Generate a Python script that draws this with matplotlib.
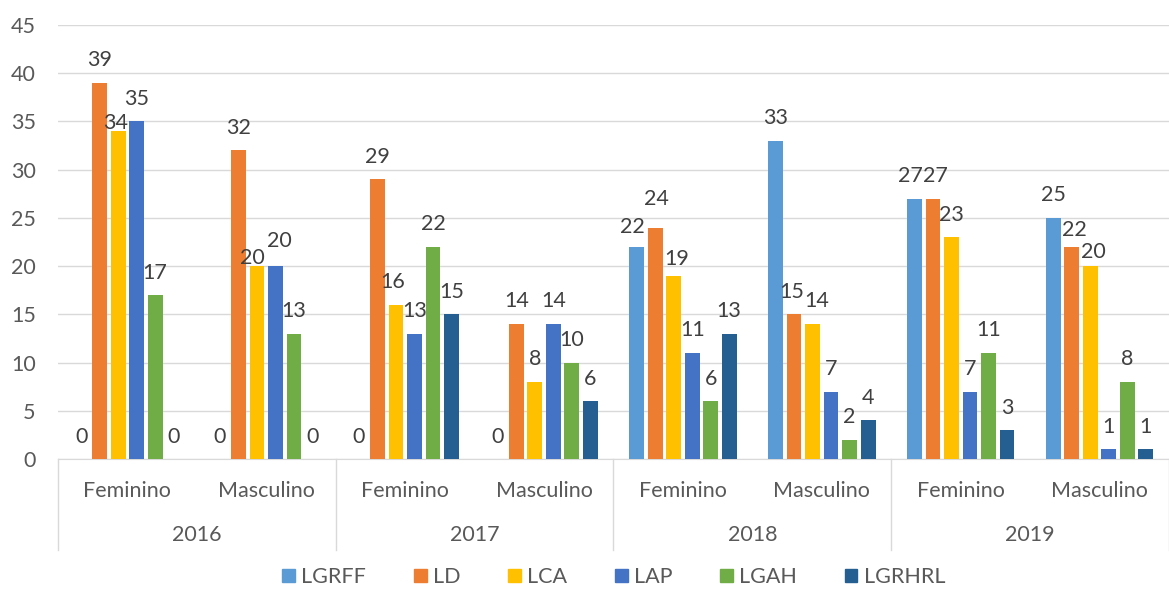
import numpy as np
import matplotlib
matplotlib.use("Agg")
import matplotlib.pyplot as plt
from matplotlib.patches import Patch

# dados
anos = ["2016", "2017", "2018", "2019"]
sexos = ["Feminino", "Masculino"]
series = ["LGRFF", "LD", "LCA", "LAP", "LGAH", "LGRHRL"]
cores = ["#5B9BD5", "#ED7D31", "#FFC000", "#4472C4", "#70AD47", "#255E91"]

LGRFF = [0, 0, 0, 0, 22, 33, 27, 25]
LD = [39, 32, 29, 14, 24, 15, 27, 22]
LCA = [34, 20, 16, 8, 19, 14, 23, 20]
LAP = [35, 20, 13, 14, 11, 7, 7, 1]
LGAH = [17, 13, 22, 10, 6, 2, 11, 8]
LGRHRL = [0, 0, 15, 6, 13, 4, 3, 1]
valores = [LGRFF, LD, LCA, LAP, LGAH, LGRHRL]

# rótulos deslocados como o Excel faz para evitar sobreposição: (série, categoria) -> (dx, dy) em pontos
ajustes = {(2, 0): (-2, -10), (2, 1): (-3, -10), (3, 1): (3, 2), (0, 6): (-3, 0),
           (1, 6): (2, 0), (0, 4): (-3, -2), (1, 4): (1, 4), (2, 4): (2, -4),
           (1, 7): (2, -4), (2, 7): (2, -6), (2, 2): (-2, 0),
           (1, 5): (-2, 0), (2, 5): (3, 0)}

plt.rcParams["font.family"] = ["Lato", "DejaVu Sans"]
FS = 15.5

fig = plt.figure(figsize=(11.69, 5.89), dpi=100)
ax = fig.add_axes([0.0496, 0.2207, 0.9504, 0.7368])

n = len(anos) * len(sexos)
x = np.arange(n)
slot = 0.8 / len(series)
for i, (nome, vals, cor) in enumerate(zip(series, valores, cores)):
    xs = x - 0.4 + slot * (i + 0.5)
    ax.bar(xs, vals, width=slot * 0.8, color=cor, label=nome, zorder=3)
    for k, (xi, v) in enumerate(zip(xs, vals)):
        dx, dy = ajustes.get((i, k), (0, 0))
        ax.annotate(f"{v}", (xi, v), textcoords="offset points", xytext=(dx, 9 + dy),
                    ha="center", va="bottom", fontsize=FS, color="#404040", zorder=4)

ax.set_xlim(-0.5, n - 0.5)
ax.set_ylim(0, 45)
ax.set_yticks(range(0, 46, 5))
ax.tick_params(axis="y", length=0, labelsize=FS, labelcolor="#595959", pad=16)
ax.set_xticks([])
ax.grid(axis="y", color="#D9D9D9", lw=1, zorder=0)
for s in ["top", "right", "left"]:
    ax.spines[s].set_visible(False)
ax.spines["bottom"].set_color("#D9D9D9")

# rótulos de categoria em dois níveis
trans = ax.get_xaxis_transform()
for k in range(n):
    ax.text(k, -0.073, sexos[k % 2], transform=trans, ha="center", va="center",
            fontsize=FS, color="#595959")
for j, ano in enumerate(anos):
    ax.text(2 * j + 0.5, -0.175, ano, transform=trans, ha="center", va="center",
            fontsize=FS, color="#595959")
for b in np.arange(-0.5, n, 2):
    ax.plot([b, b], [0, -0.21], transform=trans, color="#D9D9D9", lw=1, clip_on=False)

handles = [Patch(color=c, label=s) for s, c in zip(series, cores)]
fig.legend(handles=handles, loc="center", bbox_to_anchor=(0.525, 0.02), ncol=6,
           frameon=False, fontsize=FS, handlelength=0.6, handleheight=0.6,
           handletextpad=0.3, columnspacing=2.2, labelcolor="#595959")

fig.savefig("out.png", dpi=100)
